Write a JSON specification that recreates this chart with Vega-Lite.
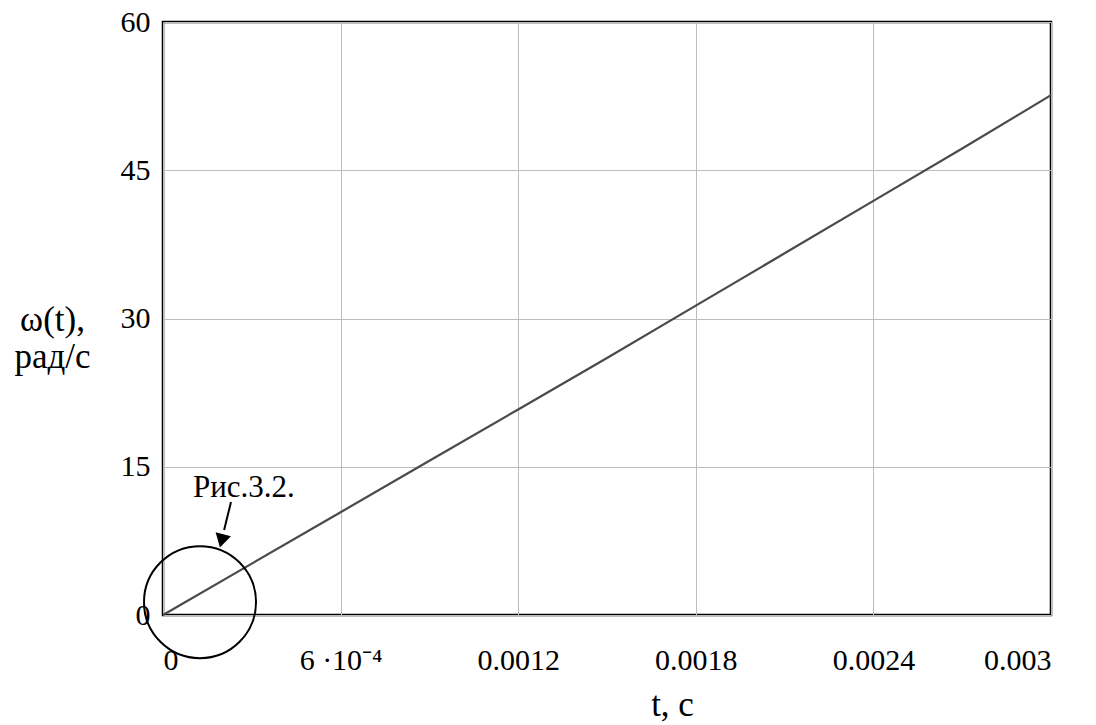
{
  "$schema": "https://vega.github.io/schema/vega-lite/v6.json",
  "autosize": "none",
  "width": 888,
  "height": 593,
  "padding": {"left": 163, "top": 22, "right": 45, "bottom": 110},
  "background": "white",
  "config": {
    "font": "'Liberation Serif', 'Times New Roman', serif",
    "view": {"stroke": "black", "strokeWidth": 2.5},
    "axis": {
      "labelFont": "'Liberation Serif', 'Times New Roman', serif",
      "titleFont": "'Liberation Serif', 'Times New Roman', serif",
      "labelFontSize": 30,
      "titleFontSize": 35,
      "labelColor": "black",
      "titleColor": "black",
      "titleFontWeight": "normal",
      "domain": false,
      "ticks": false,
      "gridColor": "#bdbdbd",
      "gridWidth": 1,
      "gridOpacity": 1
    }
  },
  "datasets": {
    "curve": [
      {"t": 0, "w": 0},
      {"t": 0.0003, "w": 5.2},
      {"t": 0.0006, "w": 10.4},
      {"t": 0.0009, "w": 15.6},
      {"t": 0.0012, "w": 20.8},
      {"t": 0.0015, "w": 26.0},
      {"t": 0.0018, "w": 31.3},
      {"t": 0.0021, "w": 36.6},
      {"t": 0.0024, "w": 41.9},
      {"t": 0.0027, "w": 47.2},
      {"t": 0.003, "w": 52.6}
    ],
    "circle": [{"t": 0.000125, "w": 1.3}],
    "arrow": [{"t": 0.0002297, "w": 11.43, "t2": 0.0002064, "w2": 8.6}],
    "head": [{"t": 0.000198, "w": 7.5}],
    "label": [{"t": 0.0001014, "w": 11.94, "text": "Рис.3.2."}]
  },
  "layer": [
    {
      "data": {"name": "curve"},
      "mark": {"type": "line", "color": "#4a4a4a", "strokeWidth": 2.2},
      "encoding": {
        "x": {
          "field": "t", "type": "quantitative",
          "scale": {"domain": [0, 0.003], "nice": false, "zero": false},
          "axis": {
            "values": [0, 0.0006, 0.0012, 0.0018, 0.0024, 0.003],
            "labelExpr": "datum.value == 0 ? '0' : abs(datum.value - 0.0006) < 1e-9 ? '6 ·10⁻⁴' : format(datum.value, '.4~f')",
            "labelPadding": 30,
            "labelBaseline": "top",
            "title": "t, c",
            "titleX": 509,
            "titleY": 100,
            "titleBaseline": "alphabetic",
            "titleAlign": "center"
          }
        },
        "y": {
          "field": "w", "type": "quantitative",
          "scale": {"domain": [0, 60], "nice": false},
          "axis": {
            "values": [0, 15, 30, 45, 60],
            "labelPadding": 13,
            "title": ["ω(t),", "рад/с"],
            "titleAngle": 0,
            "titleAlign": "center",
            "titleBaseline": "alphabetic",
            "titleX": -111,
            "titleY": 308,
            "titleLineHeight": 37
          }
        }
      }
    },
    {
      "data": {"name": "circle"},
      "mark": {"type": "point", "shape": "circle", "size": 12544, "filled": false, "stroke": "black", "strokeWidth": 2, "opacity": 1, "clip": false},
      "encoding": {
        "x": {"field": "t", "type": "quantitative"},
        "y": {"field": "w", "type": "quantitative"}
      }
    },
    {
      "data": {"name": "arrow"},
      "mark": {"type": "rule", "color": "black", "strokeWidth": 2},
      "encoding": {
        "x": {"field": "t", "type": "quantitative"},
        "y": {"field": "w", "type": "quantitative"},
        "x2": {"field": "t2"},
        "y2": {"field": "w2"}
      }
    },
    {
      "data": {"name": "head"},
      "mark": {"type": "point", "shape": "triangle-down", "size": 250, "filled": true, "color": "black", "opacity": 1, "angle": 14},
      "encoding": {
        "x": {"field": "t", "type": "quantitative"},
        "y": {"field": "w", "type": "quantitative"}
      }
    },
    {
      "data": {"name": "label"},
      "mark": {"type": "text", "align": "left", "baseline": "alphabetic", "fontSize": 31, "font": "'Liberation Serif', 'Times New Roman', serif", "color": "black"},
      "encoding": {
        "x": {"field": "t", "type": "quantitative"},
        "y": {"field": "w", "type": "quantitative"},
        "text": {"field": "text"}
      }
    }
  ]
}
